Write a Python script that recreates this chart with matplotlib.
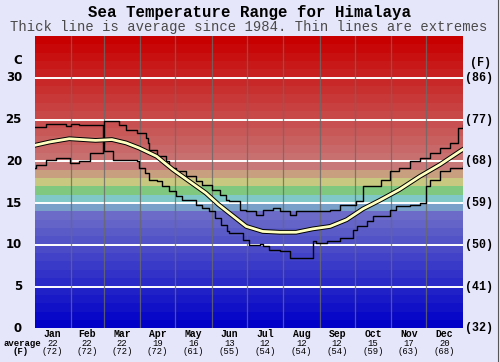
import matplotlib
matplotlib.use("Agg")
import matplotlib.pyplot as plt
import matplotlib.patheffects as pe
from matplotlib.transforms import blended_transform_factory as btf
from matplotlib.lines import Line2D

# ---------------- data ----------------
months = ["Jan", "Feb", "Mar", "Apr", "May", "Jun", "Jul", "Aug", "Sep", "Oct", "Nov", "Dec"]
month_len = [31, 28, 31, 30, 31, 30, 31, 31, 30, 31, 30, 31]
avg_c = ["22", "22", "22", "19", "16", "13", "12", "12", "12", "15", "17", "20"]
avg_f = ["(72)", "(72)", "(72)", "(72)", "(61)", "(55)", "(54)", "(54)", "(54)", "(59)", "(63)", "(68)"]
c_ticks = [0, 5, 10, 15, 20, 25, 30]
f_labels = ["(32)", "(41)", "(50)", "(59)", "(68)", "(77)", "(86)"]

avg_day = [0, 12.6, 29.6, 52, 66, 78, 89, 104, 118, 132, 146, 157, 166, 180.5, 194.5,
           209, 223, 237, 252, 266, 280, 294, 311, 328.5, 345.6, 362.7, 365]
avg_temp = [21.9, 22.3, 22.7, 22.5, 22.6, 22.2, 21.6, 20.6, 19.0, 17.6, 16.2, 14.8, 13.8, 12.2, 11.6,
            11.5, 11.5, 11.9, 12.2, 13.0, 14.3, 15.3, 16.6, 18.2, 19.6, 21.2, 21.4]

max_day = [0, 10, 27, 31, 38, 47, 58, 59, 72, 78, 87, 95, 96.5, 98, 104, 112, 115, 121, 129, 138,
           143, 151, 158, 163, 166, 175, 180, 189, 195, 203, 209, 217.5, 223, 252, 260, 274, 280, 295, 303, 311,
           320, 328.5, 337, 345.5, 354, 361, 365]
max_temp = [24.1, 24.5, 24.2, 24.5, 24.3, 24.4, 22.2, 24.8, 24.4, 23.8, 23.4, 22.8, 22.2, 21.4, 20.6, 20.0, 19.2, 18.8, 18.2, 17.6,
            17.2, 16.6, 16.0, 15.4, 15.2, 14.2, 14.0, 13.6, 14.2, 14.4, 14.0, 13.6, 14.0, 14.2, 14.8, 15.2, 17.0, 17.8, 18.8, 19.2,
            20.0, 20.4, 21.0, 21.6, 22.2, 24.0, 24.3]

min_day = [0, 1.5, 10, 18, 30, 38, 47, 58, 59, 67, 87, 89, 94, 98, 104, 109, 115, 121, 126, 138,
           143, 149, 154, 159, 164.5, 166, 178, 183, 192, 195, 200, 209, 217.5, 237, 240, 249, 260, 271.5, 274.5, 283,
           288.5, 303, 308.5, 320, 328.5, 334, 337, 345.5, 354, 365]
min_temp = [19.2, 19.6, 20.2, 20.4, 19.8, 20.0, 21.0, 22.2, 21.2, 20.2, 20.0, 19.2, 18.6, 17.8, 17.6, 17.0, 16.4, 15.8, 15.4, 14.8,
            14.4, 14.0, 13.2, 12.4, 11.6, 11.4, 10.6, 10.0, 10.1, 9.8, 9.4, 9.2, 8.4, 10.4, 10.2, 10.4, 10.8, 11.8, 12.2, 12.8,
            13.4, 14.2, 14.6, 14.8, 15.0, 17.0, 17.8, 18.8, 19.2, 19.4]

# ---------------- style ----------------
W, H = 500, 362
BG = "#e6e6fa"
L, R, T, B = 34.5, 462.7, 36.0, 328.3
YMAX = 35


def band_color(i):
    if i <= 13:
        v = round(i * 8.3)
        return (v / 255, v / 255, 200 / 255)
    fixed = {14: (120, 160, 200), 15: (128, 200, 200), 16: (128, 200, 128),
             17: (200, 200, 128), 18: (200, 160, 128)}
    if i in fixed:
        return tuple(c / 255 for c in fixed[i])
    g = 120 * (34 - i) / 15
    return (200 / 255, g / 255, g / 255)


fig = plt.figure(figsize=(W / 100, H / 100), dpi=100, facecolor=BG)
ax = fig.add_axes([L / W, 1 - B / H, (R - L) / W, (B - T) / H])
ax.set_xlim(0, 365)
ax.set_ylim(0, YMAX)
ax.axis("off")

for i in range(YMAX):
    ax.axhspan(i, i + 1, color=band_color(i), lw=0, zorder=0)

for t in c_ticks[1:]:
    ax.axhline(t, color="white", lw=1.4, zorder=1)

starts = []
s = 0
for n in month_len:
    starts.append(s)
    s += n
for st in starts[1:]:
    ax.axvline(st, color="#6a6a6a", lw=0.9, alpha=0.8, zorder=1)

ax.plot(max_day, max_temp, color="black", lw=1.0, drawstyle="steps-post", zorder=3)
ax.plot(min_day, min_temp, color="black", lw=1.0, drawstyle="steps-post", zorder=3)
ax.plot(avg_day, avg_temp, color="#ffffc0", lw=2.0, zorder=4, solid_joinstyle="round",
        path_effects=[pe.Stroke(linewidth=3.4, foreground="black"), pe.Normal()])

# titles
fig.text(249 / W, 1 - 13 / H, "Sea Temperature Range for Himalaya", ha="center", va="center",
         family="Liberation Mono", weight="bold", fontsize=11.3, color="black")
fig.text(249 / W, 1 - 27.5 / H, "Thick line is average since 1984. Thin lines are extremes",
         ha="center", va="center", family="Liberation Mono", fontsize=10, color="#4a4a4a")

# left / right axis labels
tl = btf(fig.transFigure, ax.transData)
for t in c_ticks:
    ax.text(22 / W, t, str(t), transform=tl, ha="right", va="center",
            family="DejaVu Sans", weight="bold", fontsize=8.5, color="black")
for t, lab in zip(c_ticks, f_labels):
    ax.text(479 / W, t, lab, transform=tl, ha="center", va="center",
            family="Liberation Mono", weight="bold", fontsize=8.4, color="black")
fig.text(22 / W, 1 - 61 / H, "C", ha="right", va="center", family="DejaVu Sans",
         weight="bold", fontsize=8.5)
fig.text(480 / W, 1 - 63 / H, "(F)", ha="center", va="center", family="Liberation Mono",
         weight="bold", fontsize=8.4)

# bottom labels
tb = btf(ax.transData, fig.transFigure)
for st, n, m, c, f in zip(starts, month_len, months, avg_c, avg_f):
    mid = st + n / 2
    ax.text(mid, 1 - 334 / H, m, transform=tb, ha="center", va="center",
            family="Liberation Mono", weight="bold", fontsize=7)
    ax.text(mid, 1 - 343.5 / H, c, transform=tb, ha="center", va="center",
            family="Liberation Mono", fontsize=6.4)
    ax.text(mid, 1 - 352 / H, f, transform=tb, ha="center", va="center",
            family="Liberation Mono", fontsize=6.4)
fig.text(22 / W, 1 - 343.5 / H, "average", ha="center", va="center",
         family="Liberation Mono", weight="bold", fontsize=6.5)
fig.text(21 / W, 1 - 352 / H, "(F)", ha="center", va="center",
         family="Liberation Mono", weight="bold", fontsize=6.5)

fig.add_artist(Line2D([497.5 / W, 497.5 / W], [0, 1], color="#555555", lw=0.8))

fig.savefig("out.png", dpi=100, facecolor=BG)
